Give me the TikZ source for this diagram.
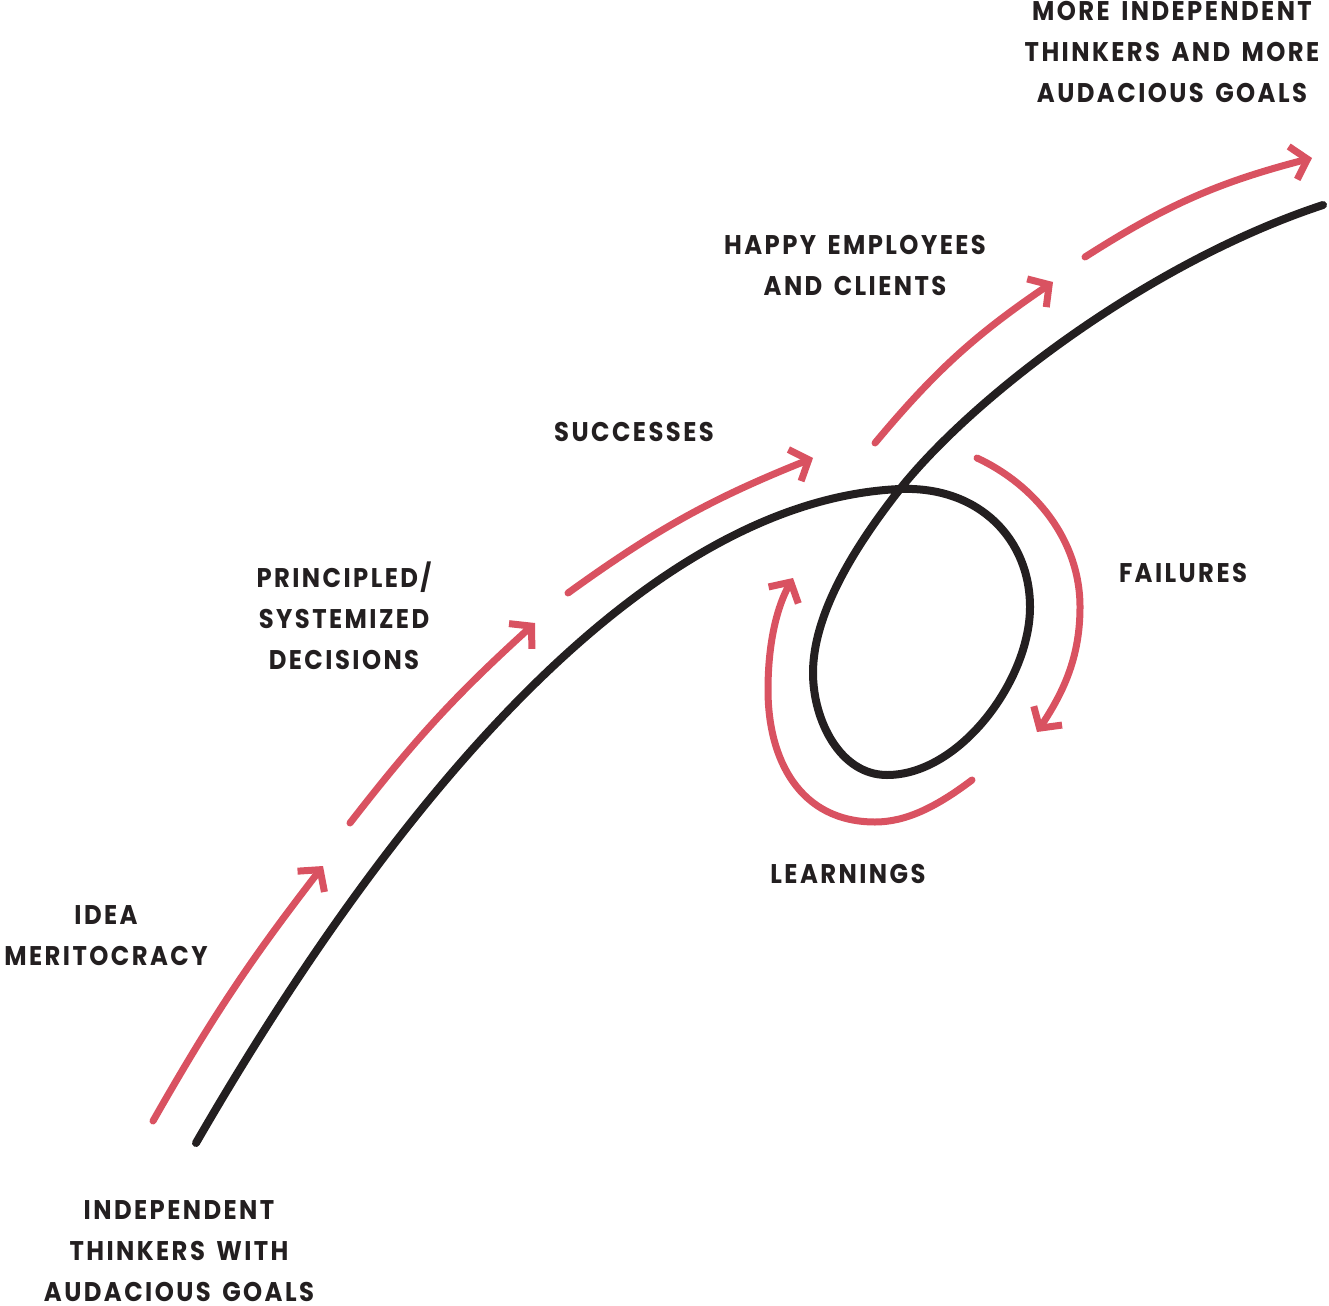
\documentclass[tikz,border=0pt]{standalone}
\usepackage{fontspec}
\setmainfont{Poppins}[FakeStretch=0.9, LetterSpace=9, WordSpace=1.5]
\usetikzlibrary{arrows.meta}
\definecolor{ink}{RGB}{35,31,32}
\definecolor{rose}{RGB}{217,82,97}
\begin{document}
\begin{tikzpicture}[x=1pt,y=-1pt,
  track/.style={draw=ink, line width=8pt, line cap=round, line join=round},
  flow/.style={draw=rose, line width=7pt, line cap=round,
    -{Straight Barb[length=15pt,width=34pt]}},
  lbl/.style={font=\fontsize{27}{41}\selectfont\bfseries, text=ink,
    align=center, inner sep=0pt}]
\useasboundingbox (0,0) rectangle (1329,1305);

% key points of the growth path
\coordinate (start) at (196,1143);
\coordinate (cross) at (900,489);
\coordinate (east)  at (1030,607);
\coordinate (south) at (887,775);
\coordinate (west)  at (813,673);
\coordinate (finish) at (1323,205);

% the path of growth, with its loop of failures and learnings
\draw[track] (start)
  .. controls (400,790) and (650,500) .. (cross)
  .. controls (980,486) and (1030,540) .. (east)
  .. controls (1030,680) and (960,775) .. (south)
  .. controls (840,775) and (813,720) .. (west)
  .. controls (813,610) and (860,540) .. (cross)
  .. controls (975,395) and (1150,262) .. (finish);

% upward steps
\coordinate (s1a) at (153,1121);  \coordinate (s1b) at (323,866);
\coordinate (s2a) at (350,823);   \coordinate (s2b) at (535,623);
\coordinate (s3a) at (568,593);   \coordinate (s3b) at (813,458);
\coordinate (s4a) at (875,443);   \coordinate (s4b) at (1053,282);
\coordinate (s5a) at (1085,257);  \coordinate (s5b) at (1312,158);
\draw[flow] (s1a) to[bend left=4] (s1b);
\draw[flow] (s2a) to[bend left=5] (s2b);
\draw[flow] (s3a) to[bend left=7] (s3b);
\draw[flow] (s4a) to[bend left=8] (s4b);
\draw[flow] (s5a) to[bend left=9] (s5b);

% loop arrows
\coordinate (fa) at (977,458);  \coordinate (fm) at (1080,607); \coordinate (fb) at (1037,732);
\draw[flow] (fa) .. controls (1035,485) and (1080,540) .. (fm)
  .. controls (1080,655) and (1065,690) .. (fb);
\coordinate (la) at (972,780);  \coordinate (lm) at (875,822);
\coordinate (lw) at (768,690);  \coordinate (lb) at (793,578);
\draw[flow] (la) .. controls (935,808) and (905,822) .. (lm)
  .. controls (800,822) and (768,760) .. (lw)
  .. controls (768,640) and (778,605) .. (lb);

% labels
\node[lbl] (goalsB) at (1172,52) {MORE INDEPENDENT\\THINKERS AND MORE\\AUDACIOUS GOALS};
\node[lbl] (happy) at (855,265) {HAPPY EMPLOYEES\\AND CLIENTS};
\node[lbl] (succ) at (634,432) {SUCCESSES};
\node[lbl] (princ) at (344,616) {PRINCIPLED/\\SYSTEMIZED\\DECISIONS};
\node[lbl] (idea) at (106,936) {IDEA\\MERITOCRACY};
\node[lbl] (goalsA) at (179,1251) {INDEPENDENT\\THINKERS WITH\\AUDACIOUS GOALS};
\node[lbl] (fail) at (1183,573) {FAILURES};
\node[lbl] (learn) at (848,874) {LEARNINGS};
\end{tikzpicture}
\end{document}
